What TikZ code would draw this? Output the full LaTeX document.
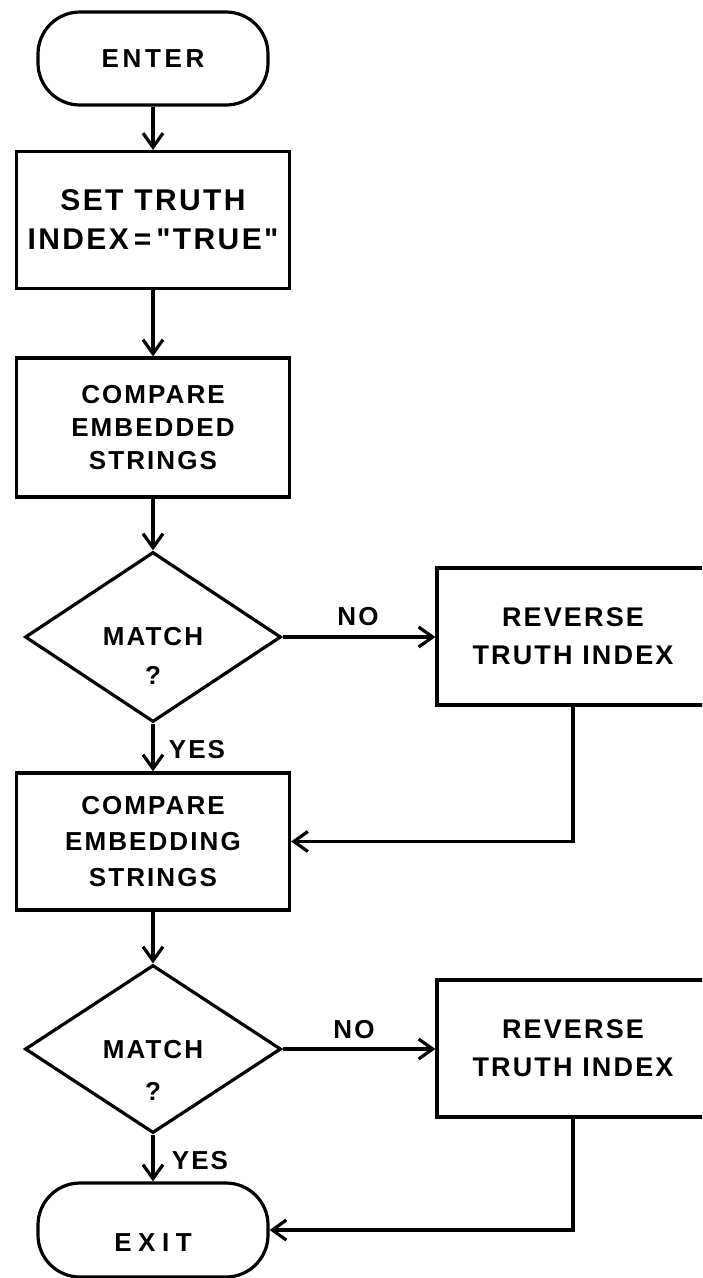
\documentclass[tikz,border=0pt]{standalone}
\usepackage{fontspec}
\newfontfamily\lf{Liberation Sans}[LetterSpace=8]
\usetikzlibrary{arrows.meta,shapes.geometric}
\begin{document}
\begin{tikzpicture}[x=1pt,y=-1pt,line width=3.2pt,
  txt/.style={inner sep=0pt,align=center,font=\lf\bfseries\fontsize{26}{36}\selectfont},
  box/.style={txt,draw,rectangle,minimum width=273pt,minimum height=137pt},
  rbox/.style={box,minimum width=272pt,font=\lf\bfseries\fontsize{27}{38}\selectfont},
  term/.style={txt,draw,rectangle,rounded corners=42pt,minimum width=230pt,minimum height=93pt},
  dia/.style={draw,diamond,inner sep=0pt,minimum width=256pt,minimum height=170pt},
  arr/.style={-{Straight Barb[length=14pt,width=20pt]}}]
\useasboundingbox (0,0) rectangle (702,1278);
\clip (0,0) rectangle (702,1278);
\node[term] (enter) at (153,58.5) {\addfontfeature{LetterSpace=14}ENTER};
\node[box,font=\lf\bfseries\fontsize{30}{39}\selectfont] (set) at (153,220) {SET TRUTH\\INDEX\,=\,"TRUE"};
\node[box,minimum height=139pt,font=\lf\bfseries\fontsize{26}{33}\selectfont] (cmp1) at (153,427.5) {COMPARE\\EMBEDDED\\STRINGS};
\node[dia] (m1) at (153,637) {};
\node[txt,font=\lf\bfseries\fontsize{26}{39}\selectfont] (m1t) at (153,656) {MATCH\\?};
\node[rbox] (r1) at (573,636.5) {REVERSE\\TRUTH INDEX};
\node[box,font=\lf\bfseries\fontsize{26}{36}\selectfont] (cmp2) at (153,841.5) {COMPARE\\EMBEDDING\\STRINGS};
\node[dia,minimum height=168pt] (m2) at (153,1049) {};
\node[txt,font=\lf\bfseries\fontsize{26}{42}\selectfont] (m2t) at (153,1070) {MATCH\\?};
\node[rbox] (r2) at (573,1048.5) {REVERSE\\TRUTH INDEX};
\node[term,minimum height=94pt] (exit) at (153,1230) {\raisebox{-21pt}[0pt][0pt]{\addfontfeature{LetterSpace=25}EXIT}};
\node[txt] (no1) at (358,617) {NO};
\node[txt] (no2) at (354,1030) {NO};
\node[txt] (yes1) at (197,750) {YES};
\node[txt] (yes2) at (200,1161) {YES};
\draw[arr] (enter) -- (set);
\draw[arr] (set) -- (cmp1);
\draw[arr] (cmp1) -- (m1);
\draw[arr] (m1.east) -- (m1.east -| r1.west);
\draw[arr] (m1) -- (cmp2);
\draw[arr] (r1.south) |- (cmp2.east);
\draw[arr] (cmp2) -- (m2);
\draw[arr] (m2.east) -- (m2.east -| r2.west);
\draw[arr] (m2) -- (exit);
\draw[arr] (r2.south) |- (exit.east);
\end{tikzpicture}
\end{document}
